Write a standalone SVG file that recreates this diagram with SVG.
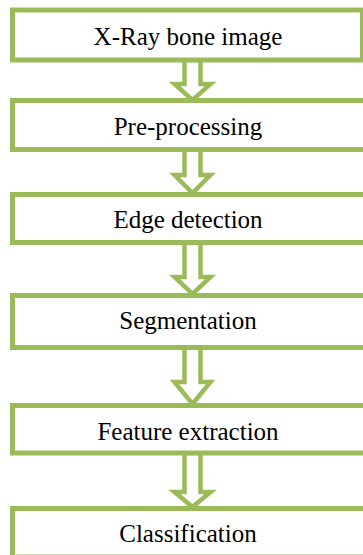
<svg xmlns="http://www.w3.org/2000/svg" width="363" height="555" viewBox="0 0 363 555">
<style>
.box{fill:#ffffff;stroke:#9BBB59;stroke-width:5}
.arr{fill:#ffffff;stroke:#9BBB59;stroke-width:4.5;stroke-linejoin:miter}
.t{font-family:"Liberation Serif","Times New Roman",serif;font-size:25px;fill:#000000;text-anchor:middle}
</style>
<rect width="363" height="555" fill="#ffffff"/>
<g id="connectors">
<polygon class="arr" points="184.5,60 200.5,60 200.5,84 210.5,84 192.5,100 174.5,84 184.5,84"/>
<polygon class="arr" points="184.5,149.5 200.5,149.5 200.5,175 210.5,175 192.5,193 174.5,175 184.5,175"/>
<polygon class="arr" points="184.5,242.5 200.5,242.5 200.5,277 210.5,277 192.5,294 174.5,277 184.5,277"/>
<polygon class="arr" points="184.5,347.5 200.5,347.5 200.5,382 210.5,382 192.5,404 174.5,382 184.5,382"/>
<polygon class="arr" points="184.5,453 200.5,453 200.5,492 210.5,492 192.5,507 174.5,492 184.5,492"/>
</g>
<g id="n1"><rect class="box" x="12.5" y="10" width="350" height="50"/><text class="t" x="188" y="45">X-Ray bone image</text></g>
<g id="n2"><rect class="box" x="12.5" y="100.5" width="360" height="49"/><text class="t" x="188" y="135">Pre-processing</text></g>
<g id="n3"><rect class="box" x="12.5" y="194.5" width="360" height="48"/><text class="t" x="188" y="228">Edge detection</text></g>
<g id="n4"><rect class="box" x="12.5" y="295.5" width="360" height="52"/><text class="t" x="188" y="329">Segmentation</text></g>
<g id="n5"><rect class="box" x="12.5" y="405.5" width="360" height="47.5"/><text class="t" x="188" y="440">Feature extraction</text></g>
<g id="n6"><rect class="box" x="12.5" y="508.5" width="360" height="48.5"/><text class="t" x="188" y="542">Classification</text></g>
</svg>
